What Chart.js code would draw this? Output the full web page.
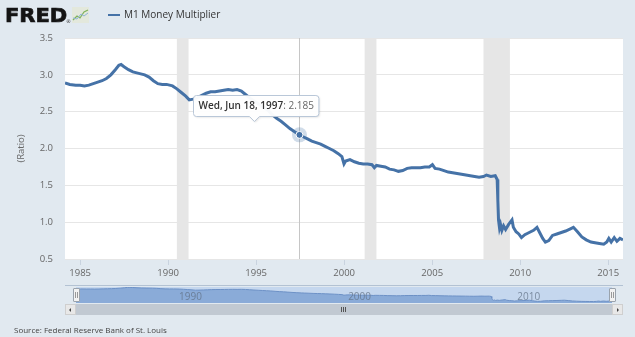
<!DOCTYPE html>
<html>
<head>
<meta charset="utf-8">
<title>M1 Money Multiplier</title>
<script src="https://cdn.jsdelivr.net/npm/chart.js@4/dist/chart.umd.min.js"></script>
<style>
  html, body { margin: 0; padding: 0; background: #e1e9f0; }
  #wrap { position: relative; width: 635px; height: 337px; overflow: hidden; font-family: "Open Sans", sans-serif; }
  #main { position: absolute; left: 0; top: 0; }
  #logo { position: absolute; left: 5px; top: 3px; font: bold 20px "DejaVu Sans", sans-serif; letter-spacing: 0; color: #141414; line-height: 24px;
          -webkit-text-stroke: 0.7px #141414; transform: scaleX(1.05); transform-origin: 0 0; }
  #reg { position: absolute; left: 66px; top: 18px; font: 5px "DejaVu Sans", sans-serif; color: #333; }
  #logoIcon { position: absolute; left: 72px; top: 7px; }
  #legend { position: absolute; left: 108px; top: 7px; font-size: 10px; line-height: 15px; color: #333; }
  #legend .swatch { position: absolute; left: 0; top: 6.5px; width: 12px; height: 2px; background: #4572a7; }
  #legend .txt { position: absolute; left: 16px; top: 0; white-space: nowrap; }
  #navTop { position: absolute; left: 65px; top: 285px; width: 558px; height: 1px; background: #b3c2d3; }
  #navChart { position: absolute; left: 76px; top: 287px; background: #c5d7ee; }
  .handle { position: absolute; top: 288px; width: 5px; height: 12px; background: #f2f2f2; border: 1px solid #9aa3ad; border-radius: 1px; }
  .handle::before, .handle::after { content: ""; position: absolute; top: 3px; width: 1px; height: 6px; background: #999; }
  .handle::before { left: 1px; } .handle::after { left: 3px; }
  #scrollTrack { position: absolute; left: 65px; top: 304px; width: 558px; height: 11px; background: #eeeeee; }
  #scrollThumb { position: absolute; left: 75px; top: 304px; width: 538px; height: 11px; background: #c1c9d2; }
  .sbtn { position: absolute; top: 304px; width: 9px; height: 9px; background: #e8e8e8; border: 1px solid #cfcfcf; }
  .sbtn i { position: absolute; top: 2.5px; width: 0; height: 0; border-top: 2px solid transparent; border-bottom: 2px solid transparent; }
  #btnL i { left: 3px; border-right: 2.5px solid #444; }
  #btnR i { left: 3.5px; border-left: 2.5px solid #444; }
  #grip { position: absolute; left: 341px; top: 307px; width: 6px; height: 5px; }
  #grip b { position: absolute; top: 0; width: 1px; height: 5px; background: #555; }
  #source { position: absolute; left: 14px; top: 324px; font-size: 8px; line-height: 12px; color: #444; white-space: nowrap; }
</style>
</head>
<body>
<div id="wrap">
  <canvas id="main" width="635" height="337"></canvas>
  <div id="logo">FRED</div>
  <div id="reg">®</div>
  <svg id="logoIcon" width="17" height="16" viewBox="0 0 17 16">
    <rect x="0" y="0" width="17" height="16" fill="#e3e8dc"/>
    <polyline points="1,13 5,9 8,11 12,5 16,3" fill="none" stroke="#7fb35a" stroke-width="1.2"/>
    <polyline points="1,11 5,12 9,7 12,9 16,6" fill="none" stroke="#8fb4d6" stroke-width="1"/>
  </svg>
  <div id="legend"><span class="swatch"></span><span class="txt">M1 Money Multiplier</span></div>
  <div id="navTop"></div>
  <canvas id="navChart" width="536" height="16"></canvas>
  <div class="handle" style="left:73px"></div>
  <div class="handle" style="left:609px"></div>
  <div id="scrollTrack"></div>
  <div id="scrollThumb"></div>
  <div class="sbtn" id="btnL" style="left:65px"><i></i></div>
  <div class="sbtn" id="btnR" style="left:612px"><i></i></div>
  <div id="grip"><b style="left:0"></b><b style="left:2px"></b><b style="left:4px"></b></div>
  <div id="source">Source: Federal Reserve Bank of St. Louis</div>
</div>
<script>
// M1 money multiplier (ratio), observation dates and values
const dates = [
  '1984-02-22','1984-06-01','1984-10-01',
  '1985-01-01','1985-04-01','1985-07-01','1985-10-01',
  '1986-01-01','1986-04-01','1986-07-01','1986-10-01',
  '1987-01-01','1987-03-15','1987-05-01','1987-07-01','1987-10-01',
  '1988-01-01','1988-05-01','1988-09-01','1988-12-01',
  '1989-03-01','1989-06-01','1989-09-01','1989-12-01',
  '1990-04-01','1990-07-01','1990-10-01',
  '1991-01-01','1991-03-15','1991-06-01','1991-09-01','1991-12-01',
  '1992-03-01','1992-06-01','1992-09-01','1992-12-01',
  '1993-03-01','1993-06-01','1993-09-01','1993-12-01',
  '1994-03-01','1994-06-01','1994-09-01','1994-12-01',
  '1995-03-01','1995-06-01','1995-09-01','1995-12-01',
  '1996-03-01','1996-06-01','1996-09-01','1996-12-01',
  '1997-03-01','1997-06-18','1997-09-01','1997-12-01',
  '1998-03-01','1998-06-01','1998-09-01','1998-12-01',
  '1999-03-01','1999-06-01','1999-09-01','1999-11-15','1999-12-29',
  '2000-02-01','2000-05-01','2000-08-01','2000-11-01',
  '2001-02-01','2001-05-01','2001-08-01','2001-09-19','2001-11-01',
  '2002-02-01','2002-05-01','2002-08-01','2002-11-01',
  '2003-02-01','2003-05-01','2003-08-01','2003-11-01',
  '2004-02-01','2004-05-01','2004-08-01','2004-11-01',
  '2005-01-05','2005-03-01','2005-06-01','2005-09-01','2005-12-01',
  '2006-03-01','2006-06-01','2006-09-01','2006-12-01',
  '2007-03-01','2007-06-01','2007-09-01','2007-12-01',
  '2008-02-01','2008-05-01','2008-08-01','2008-09-10','2008-09-24','2008-10-08','2008-10-29','2008-11-19','2008-12-17',
  '2009-01-21','2009-03-04','2009-05-06','2009-07-15','2009-08-12','2009-10-07','2009-12-02',
  '2010-01-27','2010-04-07','2010-07-07','2010-10-06','2010-12-15',
  '2011-02-16','2011-04-13','2011-06-08','2011-08-17','2011-11-02',
  '2012-02-01','2012-05-02','2012-08-01','2012-11-07',
  '2013-01-09','2013-04-03','2013-07-03','2013-10-02',
  '2014-01-08','2014-04-02','2014-07-02','2014-10-01','2014-12-03',
  '2015-01-14','2015-03-04','2015-05-06','2015-07-01','2015-09-02','2015-11-04'
];
const ratio = [
  2.89, 2.87, 2.86,
  2.86, 2.85, 2.86, 2.88,
  2.90, 2.92, 2.95, 3.00,
  3.07, 3.13, 3.14, 3.11, 3.07,
  3.04, 3.02, 3.00, 2.97,
  2.92, 2.88, 2.87, 2.87,
  2.85, 2.81, 2.76,
  2.71, 2.66, 2.67, 2.69, 2.72,
  2.75, 2.77, 2.77, 2.78,
  2.79, 2.80, 2.79, 2.80,
  2.78, 2.73, 2.68, 2.64,
  2.60, 2.56, 2.52, 2.46,
  2.41, 2.37, 2.32, 2.27,
  2.23, 2.185, 2.16, 2.13,
  2.10, 2.08, 2.06, 2.03,
  2.00, 1.97, 1.93, 1.89, 1.79,
  1.83, 1.85, 1.82, 1.80,
  1.79, 1.79, 1.78, 1.74, 1.77,
  1.76, 1.75, 1.72, 1.71,
  1.69, 1.70, 1.73, 1.74,
  1.74, 1.74, 1.75, 1.75,
  1.78, 1.73, 1.72, 1.70, 1.68,
  1.67, 1.66, 1.65, 1.64,
  1.63, 1.62, 1.61, 1.62,
  1.64, 1.62, 1.63, 1.58, 1.30, 1.03, 0.92, 0.97, 0.89,
  0.95, 0.90, 0.97, 1.03, 0.93, 0.87, 0.84,
  0.79, 0.83, 0.86, 0.89, 0.93,
  0.85, 0.78, 0.73, 0.75, 0.82,
  0.84, 0.86, 0.88, 0.91,
  0.93, 0.87, 0.80, 0.76,
  0.73, 0.72, 0.71, 0.70, 0.73,
  0.78, 0.73, 0.79, 0.74, 0.78, 0.76
];

// NBER recession periods (shaded)
const recessionStarts = ['1990-07-01', '2001-03-01', '2007-12-01'];
const recessionEnds   = ['1991-03-01', '2001-11-01', '2009-06-01'];

// axis ticks
const yearTicks = [1985, 1990, 1995, 2000, 2005, 2010, 2015];
const ratioTicks = [0.5, 1.0, 1.5, 2.0, 2.5, 3.0, 3.5];
const navYears = [1990, 2000, 2010];

// highlighted observation
const hoverDate = '1997-06-18';

const LINE = '#4572a7';
const FONT = '"Open Sans", sans-serif';
const DAYS = ['Sun','Mon','Tue','Wed','Thu','Fri','Sat'];
const MONTHS = ['Jan','Feb','Mar','Apr','May','Jun','Jul','Aug','Sep','Oct','Nov','Dec'];

function toMs(s) {
  const p = s.split('-').map(Number);
  return Date.UTC(p[0], p[1] - 1, p[2] || 1);
}
function longDate(s) {
  const d = new Date(toMs(s));
  return DAYS[d.getUTCDay()] + ', ' + MONTHS[d.getUTCMonth()] + ' ' + d.getUTCDate() + ', ' + d.getUTCFullYear();
}

const points = dates.map((d, i) => ({ x: toMs(d), y: ratio[i] }));
const xMin = toMs(dates[0]);
const xMax = toMs(dates[dates.length - 1]);
const hoverIndex = dates.indexOf(hoverDate);

// white plot area and recession shading
const plotBackground = {
  id: 'plotBackground',
  beforeDraw(chart) {
    const { ctx, chartArea: a, scales: { x } } = chart;
    ctx.save();
    ctx.fillStyle = '#ffffff';
    ctx.fillRect(a.left, a.top, a.right - a.left, a.bottom - a.top);
    ctx.fillStyle = '#e6e6e6';
    recessionStarts.forEach((s, i) => {
      const x0 = Math.max(a.left, x.getPixelForValue(toMs(s)));
      const x1 = Math.min(a.right, x.getPixelForValue(toMs(recessionEnds[i])));
      ctx.fillRect(x0, a.top, x1 - x0, a.bottom - a.top);
    });
    ctx.restore();
  }
};

// vertical crosshair at the highlighted date
const crosshair = {
  id: 'crosshair',
  beforeDatasetsDraw(chart) {
    const { ctx, chartArea: a, scales: { x } } = chart;
    const px = Math.round(x.getPixelForValue(toMs(hoverDate))) + 0.5;
    ctx.save();
    ctx.strokeStyle = '#c6c6c6';
    ctx.lineWidth = 1;
    ctx.beginPath();
    ctx.moveTo(px, a.top);
    ctx.lineTo(px, a.bottom);
    ctx.stroke();
    ctx.restore();
  }
};

// hover marker and tooltip callout
const hoverLabel = {
  id: 'hoverLabel',
  afterDraw(chart) {
    const { ctx, scales: { x, y } } = chart;
    const px = x.getPixelForValue(toMs(hoverDate));
    const py = y.getPixelForValue(ratio[hoverIndex]);
    ctx.save();
    ctx.fillStyle = 'rgba(69,114,167,0.25)';
    ctx.beginPath(); ctx.arc(px, py, 7.5, 0, Math.PI * 2); ctx.fill();
    ctx.fillStyle = LINE;
    ctx.strokeStyle = '#ffffff';
    ctx.lineWidth = 1;
    ctx.beginPath(); ctx.arc(px, py, 3.5, 0, Math.PI * 2); ctx.fill(); ctx.stroke();

    const head = longDate(hoverDate);
    const tail = ': ' + ratio[hoverIndex].toFixed(3);
    ctx.font = '600 10px ' + FONT;
    const w1 = ctx.measureText(head).width;
    ctx.font = '10px ' + FONT;
    const w2 = ctx.measureText(tail).width;
    const bw = w1 + w2 + 10, bh = 21;
    const bx = Math.round(px + 19 - bw) + 0.5;
    const by = Math.round(py - 40) + 0.5;
    const cx = px - 45;

    ctx.shadowColor = 'rgba(0,0,0,0.12)';
    ctx.shadowOffsetX = 1; ctx.shadowOffsetY = 1; ctx.shadowBlur = 2;
    ctx.fillStyle = 'rgba(255,255,255,0.96)';
    ctx.strokeStyle = '#b9c7d8';
    ctx.lineWidth = 1;
    const r = 3;
    ctx.beginPath();
    ctx.moveTo(bx + r, by);
    ctx.lineTo(bx + bw - r, by);
    ctx.arcTo(bx + bw, by, bx + bw, by + r, r);
    ctx.lineTo(bx + bw, by + bh - r);
    ctx.arcTo(bx + bw, by + bh, bx + bw - r, by + bh, r);
    ctx.lineTo(cx + 5, by + bh);
    ctx.lineTo(cx, by + bh + 5);
    ctx.lineTo(cx - 5, by + bh);
    ctx.lineTo(bx + r, by + bh);
    ctx.arcTo(bx, by + bh, bx, by + bh - r, r);
    ctx.lineTo(bx, by + r);
    ctx.arcTo(bx, by, bx + r, by, r);
    ctx.closePath();
    ctx.fill();
    ctx.shadowColor = 'transparent';
    ctx.stroke();

    ctx.textBaseline = 'middle';
    ctx.textAlign = 'left';
    ctx.font = '600 10px ' + FONT;
    ctx.fillStyle = '#333333';
    ctx.fillText(head, bx + 5, by + bh / 2 + 0.5);
    ctx.font = '10px ' + FONT;
    ctx.fillStyle = '#666666';
    ctx.fillText(tail, bx + 5 + w1, by + bh / 2 + 0.5);
    ctx.restore();
  }
};

new Chart(document.getElementById('main'), {
  type: 'line',
  data: {
    datasets: [{
      label: 'M1 Money Multiplier',
      data: points,
      borderColor: LINE,
      borderWidth: 3,
      pointRadius: 0,
      tension: 0,
      fill: false
    }]
  },
  options: {
    responsive: false,
    animation: false,
    devicePixelRatio: 1,
    events: [],
    layout: { padding: { top: 38, right: 12, left: 0, bottom: 0 } },
    plugins: { legend: { display: false }, tooltip: { enabled: false } },
    scales: {
      x: {
        type: 'linear',
        min: xMin,
        max: xMax,
        afterBuildTicks: s => { s.ticks = yearTicks.map(yr => ({ value: Date.UTC(yr, 0, 1) })); },
        afterFit: s => { s.height = 78; },
        ticks: {
          callback: v => String(new Date(v).getUTCFullYear()),
          color: '#666666',
          font: { family: FONT, size: 9.5 },
          padding: 3,
          maxRotation: 0,
          autoSkip: false
        },
        grid: { drawOnChartArea: false, drawTicks: true, tickLength: 6, color: '#c9d3df' },
        border: { display: false }
      },
      y: {
        min: 0.5,
        max: 3.5,
        afterBuildTicks: s => { s.ticks = ratioTicks.map(v => ({ value: v })); },
        afterFit: s => { s.width = 65; },
        ticks: {
          callback: v => v.toFixed(1),
          color: '#666666',
          font: { family: FONT, size: 9.5 },
          padding: 12
        },
        grid: { color: '#e6e6e6', drawTicks: false },
        border: { display: false },
        title: {
          display: true,
          text: '(Ratio)',
          color: '#666666',
          font: { family: FONT, size: 9.5 },
          padding: { top: 16, bottom: 0 }
        }
      }
    }
  },
  plugins: [plotBackground, crosshair, hoverLabel]
});

// navigator: whole series as a filled area with year labels
const navLabels = {
  id: 'navLabels',
  afterDraw(chart) {
    const { ctx, scales: { x } } = chart;
    ctx.save();
    ctx.font = '10px ' + FONT;
    ctx.fillStyle = 'rgba(96,112,132,0.75)';
    ctx.textBaseline = 'middle';
    ctx.textAlign = 'left';
    navYears.forEach(yr => {
      ctx.fillText(String(yr), x.getPixelForValue(Date.UTC(yr, 0, 1)) + 4, 10);
    });
    ctx.restore();
  }
};

new Chart(document.getElementById('navChart'), {
  type: 'line',
  data: {
    datasets: [{
      data: points,
      borderColor: '#6d91c6',
      borderWidth: 1,
      backgroundColor: '#8aabd8',
      fill: 'start',
      pointRadius: 0,
      tension: 0
    }]
  },
  options: {
    responsive: false,
    animation: false,
    devicePixelRatio: 1,
    events: [],
    layout: { padding: 0 },
    plugins: { legend: { display: false }, tooltip: { enabled: false } },
    scales: {
      x: { type: 'linear', display: false, min: xMin, max: xMax },
      y: { display: false, min: 0.45, max: 3.2 }
    }
  },
  plugins: [navLabels]
});
</script>
</body>
</html>
